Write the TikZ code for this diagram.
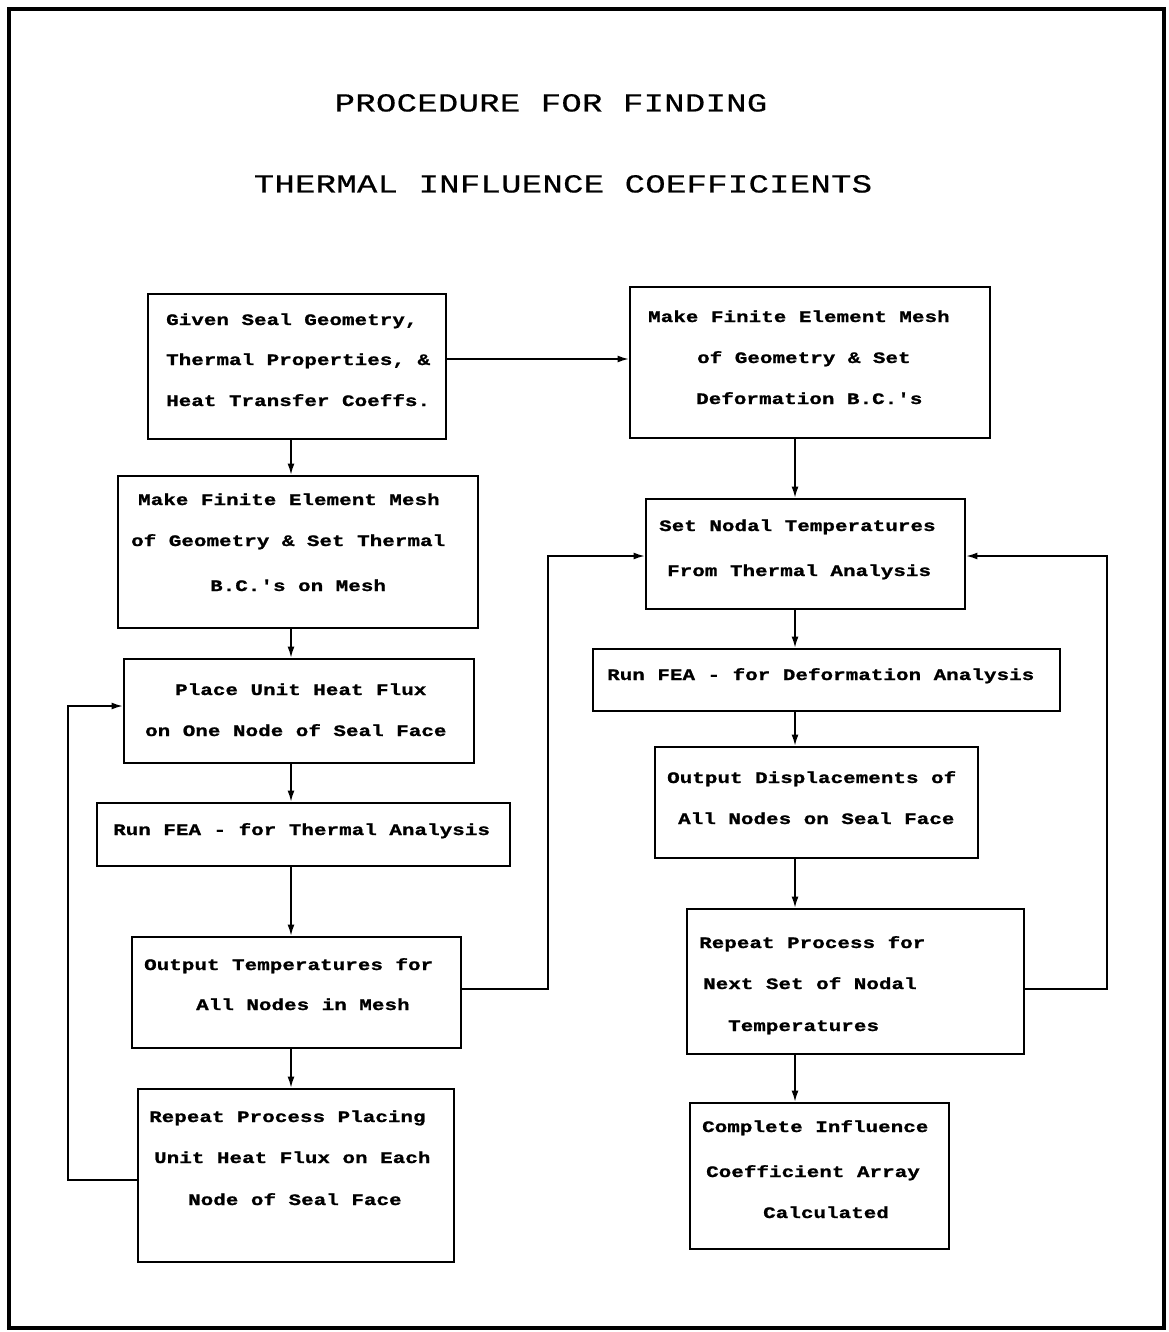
\documentclass[tikz,border=0pt]{standalone}
\usepackage{fontspec}
\newfontfamily\boxfont[FakeStretch=1.3,LetterSpace=0.6,FakeBold=1.2]{Liberation Mono}
\newfontfamily\titlefont[FakeStretch=1.3,LetterSpace=1.4,FakeBold=0.6]{Liberation Mono}
\usetikzlibrary{arrows.meta}
\tikzset{
  box/.style={draw, line width=2.9pt, inner sep=0pt},
  txt/.style={anchor=base west, inner sep=0pt, font={\fontsize{16pt}{18pt}\boxfont\bfseries}},
  ttl/.style={anchor=base, inner sep=0pt, font={\fontsize{26pt}{30pt}\titlefont}},
  arr/.style={-{Latex[length=11pt,width=7pt]}, line width=1.4pt}
}
\begin{document}
\begin{tikzpicture}[x=1pt,y=-1pt]
\useasboundingbox (0,0) rectangle (1168,1332);
\draw[line width=3.2pt] (9,9) rectangle (1164,1328);

\node[ttl] (t1) at (551,111.5) {PROCEDURE FOR FINDING};
\node[ttl] (t2) at (563,192.5) {THERMAL INFLUENCE COEFFICIENTS};

% boxes
\node[box, minimum width=298pt, minimum height=145pt] (b1) at (297,366.5) {};
\node[box, minimum width=360pt, minimum height=151pt] (b2) at (810,362.5) {};
\node[box, minimum width=360pt, minimum height=152pt] (b3) at (298,552) {};
\node[box, minimum width=350pt, minimum height=104pt] (b4) at (299,711) {};
\node[box, minimum width=413pt, minimum height=63pt] (b5) at (303.5,834.5) {};
\node[box, minimum width=329pt, minimum height=111pt] (b6) at (296.5,992.5) {};
\node[box, minimum width=316pt, minimum height=173pt] (b7) at (296,1175.5) {};
\node[box, minimum width=319pt, minimum height=110pt] (b8) at (805.5,554) {};
\node[box, minimum width=467pt, minimum height=62pt] (b9) at (826.5,680) {};
\node[box, minimum width=323pt, minimum height=111pt] (b10) at (816.5,802.5) {};
\node[box, minimum width=337pt, minimum height=145pt] (b11) at (855.5,981.5) {};
\node[box, minimum width=259pt, minimum height=146pt] (b12) at (819.5,1176) {};

% texts
\node[txt] (b1a) at (166,325) {Given Seal Geometry,};
\node[txt] (b1b) at (166,365) {Thermal Properties, \&};
\node[txt] (b1c) at (166,406) {Heat Transfer Coeffs.};

\node[txt] (b2a) at (648,322) {Make Finite Element Mesh};
\node[txt] (b2b) at (697,363) {of Geometry \& Set};
\node[txt] (b2c) at (696,404) {Deformation B.C.'s};

\node[txt] (b3a) at (138,505) {Make Finite Element Mesh};
\node[txt] (b3b) at (131,546) {of Geometry \& Set Thermal};
\node[txt] (b3c) at (210,591) {B.C.'s on Mesh};

\node[txt] (b4a) at (175,695) {Place Unit Heat Flux};
\node[txt] (b4b) at (145,736) {on One Node of Seal Face};

\node[txt] (b5a) at (113,835) {Run FEA - for Thermal Analysis};

\node[txt] (b6a) at (144,970) {Output Temperatures for};
\node[txt] (b6b) at (196,1010) {All Nodes in Mesh};

\node[txt] (b7a) at (149,1122) {Repeat Process Placing};
\node[txt] (b7b) at (154,1163) {Unit Heat Flux on Each};
\node[txt] (b7c) at (188,1205) {Node of Seal Face};

\node[txt] (b8a) at (659,531) {Set Nodal Temperatures};
\node[txt] (b8b) at (667,576) {From Thermal Analysis};

\node[txt] (b9a) at (607,680) {Run FEA - for Deformation Analysis};

\node[txt] (b10a) at (667,783) {Output Displacements of};
\node[txt] (b10b) at (678,824) {All Nodes on Seal Face};

\node[txt] (b11a) at (699,948) {Repeat Process for};
\node[txt] (b11b) at (703,989) {Next Set of Nodal};
\node[txt] (b11c) at (728,1031) {Temperatures};

\node[txt] (b12a) at (702,1132) {Complete Influence};
\node[txt] (b12b) at (706,1177) {Coefficient Array};
\node[txt] (b12c) at (763,1218) {Calculated};

% reference coordinates
\coordinate (lx) at (291,0);
\coordinate (rx) at (795,0);
\coordinate (y1) at (0,359);
\coordinate (lpa) at (68,1180);
\coordinate (lpb) at (68,706);
\coordinate (mpa) at (548,989);
\coordinate (mpb) at (548,556);
\coordinate (rpa) at (1107,989);
\coordinate (rpb) at (1107,556);

% connectors
\draw[arr] (b1.east |- y1) -- (b2.west |- y1);
\draw[arr] (b1.south -| lx) -- (b3.north -| lx);
\draw[arr] (b3.south -| lx) -- (b4.north -| lx);
\draw[arr] (b4.south -| lx) -- (b5.north -| lx);
\draw[arr] (b5.south -| lx) -- (b6.north -| lx);
\draw[arr] (b6.south -| lx) -- (b7.north -| lx);
\draw[arr] (b7.west |- lpa) -- (lpa) -- (lpb) -- (b4.west |- lpb);

\draw[arr] (b2.south -| rx) -- (b8.north -| rx);
\draw[arr] (b8.south -| rx) -- (b9.north -| rx);
\draw[arr] (b9.south -| rx) -- (b10.north -| rx);
\draw[arr] (b10.south -| rx) -- (b11.north -| rx);
\draw[arr] (b11.south -| rx) -- (b12.north -| rx);
\draw[arr] (b6.east |- mpa) -- (mpa) -- (mpb) -- (b8.west |- mpb);
\draw[arr] (b11.east |- rpa) -- (rpa) -- (rpb) -- (b8.east |- rpb);
\end{tikzpicture}
\end{document}
